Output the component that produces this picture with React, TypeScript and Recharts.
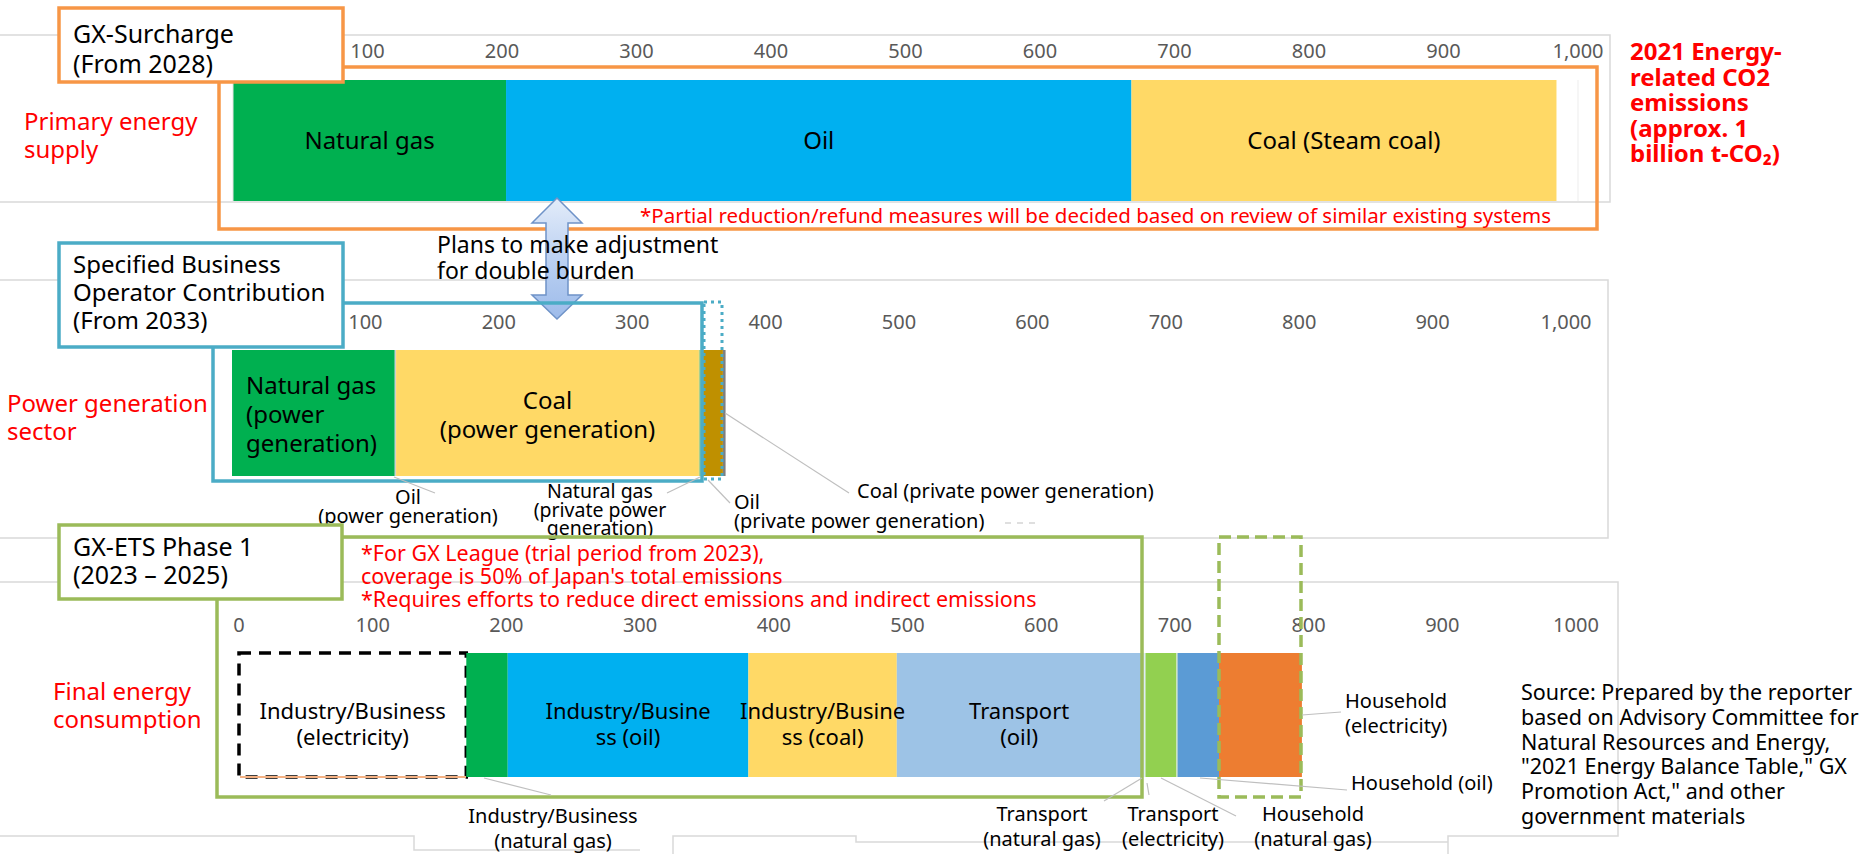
import React from "react";
import { BarChart, Bar, XAxis, YAxis, LabelList, ReferenceLine } from "recharts";

const FONT = "'Noto Sans', sans-serif";

// 2021 energy-related CO2 emissions, Mt-CO2 (approx.)
const primaryNames = ["Natural gas", "Oil", "Coal (Steam coal)"];
const primaryValues = [203, 465, 316];
const primaryLabels = ["Natural gas", "Oil", "Coal (Steam coal)"];

const powerNames = [
  "Natural gas (power generation)",
  "Oil (power generation)",
  "Coal (power generation)",
  "Natural gas (private power generation)",
  "Coal (private power generation)",
  "Oil (private power generation)",
];
const powerValues = [122, 1, 227, 3, 15, 2];
const powerLabels = ["Natural gas\n(power\ngeneration)", "", "Coal\n(power generation)", "", "", ""];

const finalNames = [
  "Industry/Business (electricity)",
  "Industry/Business (natural gas)",
  "Industry/Business (oil)",
  "Industry/Business (coal)",
  "Transport (oil)",
  "Transport (natural gas)",
  "Transport (electricity)",
  "Household (natural gas)",
  "Household (oil)",
  "Household (electricity)",
];
const finalValues = [170, 31, 180, 111, 183, 3, 23, 1, 31, 62];
const finalLabels = [
  "Industry/Business\n(electricity)",
  "",
  "Industry/Busine\nss (oil)",
  "Industry/Busine\nss (coal)",
  "Transport\n(oil)",
  "",
  "",
  "",
  "",
  "",
];

const axisTicks = [0, 100, 200, 300, 400, 500, 600, 700, 800, 900, 1000];

const primaryColors = ["#00B050", "#00B0F0", "#FFD966"];
const powerColors = ["#00B050", "#D0CECE", "#FFD966", "#A9D18E", "#BF9000", "#7F7F7F"];
const finalColors = [
  "#FFFFFF", "#00B050", "#00B0F0", "#FFD966", "#9DC3E6",
  "#DEEBF7", "#92D050", "#C5E0B4", "#5B9BD5", "#ED7D31",
];

const RED = "#FF0000";
const ORANGE = "#F79646";
const BLUE = "#4BACC6";
const GREEN = "#9BBB59";
const FRAME = "#D9D9D9";
const LEADER = "#BFBFBF";

const withComma = (v: number) => v.toLocaleString("en-US");
const noComma = (v: number) => String(v);

function barLabel(p: any, text: string, size: number, align: string, dy: number, lh: number) {
  if (!text) return null;
  const x = Number(p.x), y = Number(p.y), w = Number(p.width), h = Number(p.height);
  const lines = text.split("\n");
  const cx = align === "start" ? x + 14 : x + w / 2;
  const y0 = y + h / 2 + dy - ((lines.length - 1) * lh) / 2;
  return (
    <text textAnchor={align} dominantBaseline="central" fontFamily={FONT} fontSize={size} fill="#000">
      {lines.map((l, i) => (
        <tspan key={i} x={cx} y={y0 + i * lh}>{l}</tspan>
      ))}
    </text>
  );
}

type StackProps = {
  names: string[];
  values: number[];
  colors: string[];
  labels: string[];
  left: number;
  top: number;
  width: number;
  height: number;
  margin: { top: number; right: number; bottom: number; left: number };
  axisH: number;
  tickY: number;
  fmt: (v: number) => string;
  labelSize: number;
  labelDy: number;
  labelLh: number;
  firstAlign?: string;
  dashedFirst?: boolean;
  edgeLines?: boolean;
};

function StackChart(props: StackProps) {
  const row: any = { name: "row" };
  props.names.forEach((_, i) => (row["s" + i] = props.values[i]));
  return (
    <div style={{ position: "absolute", left: props.left, top: props.top }}>
      <BarChart
        width={props.width}
        height={props.height}
        data={[row]}
        layout="vertical"
        margin={props.margin}
        barCategoryGap={0}
      >
        <XAxis
          type="number"
          orientation="top"
          domain={[0, 1000]}
          ticks={axisTicks}
          interval={0}
          height={props.axisH}
          axisLine={false}
          tickLine={false}
          tick={(t: any) => (
            <text
              x={t.x}
              y={props.tickY}
              textAnchor="middle"
              dominantBaseline="central"
              fill="#595959"
              fontSize={20}
              fontFamily={FONT}
            >
              {props.fmt(t.payload.value)}
            </text>
          )}
        />
        <YAxis type="category" dataKey="name" hide />
        {props.edgeLines && <ReferenceLine x={0} stroke="#E3E3E3" />}
        {props.edgeLines && <ReferenceLine x={1000} stroke="#EDEDED" />}
        {props.names.map((n, i) => {
          const dashed = props.dashedFirst && i === 0;
          return (
            <Bar
              key={n}
              name={n}
              dataKey={"s" + i}
              stackId="a"
              fill={props.colors[i]}
              isAnimationActive={false}
              stroke={dashed ? "#000" : undefined}
              strokeWidth={dashed ? 3.5 : 0}
              strokeDasharray={dashed ? "12 8" : undefined}
            >
              <LabelList
                dataKey={"s" + i}
                content={(p: any) =>
                  barLabel(
                    p,
                    props.labels[i],
                    props.labelSize,
                    i === 0 && props.firstAlign ? props.firstAlign : "middle",
                    props.labelDy,
                    props.labelLh
                  )
                }
              />
            </Bar>
          );
        })}
      </BarChart>
    </div>
  );
}

function Txt({ x, y, lines, size = 20, fill = "#000", anchor = "start", weight = 400, lh }: any) {
  const h = lh ?? size * 1.3;
  return (
    <text fontFamily={FONT} fontSize={size} fill={fill} textAnchor={anchor} fontWeight={weight} dominantBaseline="central">
      {lines.map((l: string, i: number) => (
        <tspan key={i} x={x} y={y + i * h}>{l}</tspan>
      ))}
    </text>
  );
}

function Overlay() {
  return (
    <svg width={1872} height={854} style={{ position: "absolute", left: 0, top: 0, pointerEvents: "none" }}>
      <defs>
        <linearGradient id="arrowFill" x1="0" y1="0" x2="0" y2="1">
          <stop offset="0%" stopColor="#E3ECF9" />
          <stop offset="50%" stopColor="#BCD1F2" />
          <stop offset="100%" stopColor="#9DBBEA" />
        </linearGradient>
      </defs>

      {/* chart frames */}
      <g stroke={FRAME} strokeWidth={1.5} fill="none">
        <polyline points="0,35 1610,35 1610,202 0,202" />
        <polyline points="0,280 1608,280 1608,538 0,538" />
        <polyline points="0,582 1618,582 1618,836 1448,836 1448,854" />
        <polyline points="0,836 414,836 414,850 640,850" />
        <polyline points="673,854 673,836 856,836 856,842 1448,842" />
      </g>

      {/* primary energy supply */}
      <rect x={219} y={67} width={1378} height={162} fill="none" stroke={ORANGE} strokeWidth={3.5} />
      <Txt x={24} y={120} lines={["Primary energy", "supply"]} size={24} fill={RED} lh={28} />
      <Txt
        x={640}
        y={215}
        lines={["*Partial reduction/refund measures will be decided based on review of similar existing systems"]}
        size={20.5}
        fill={RED}
      />
      <Txt
        x={1630}
        y={50}
        lines={["2021 Energy-", "related CO2", "emissions", "(approx. 1", "billion t-CO\u2082)"]}
        size={24}
        fill={RED}
        weight={700}
        lh={25.5}
      />

      {/* adjustment arrow */}
      <path
        d="M557,198 L582,223 L568,223 L568,295 L582,295 L557,319 L532,295 L546,295 L546,223 L532,223 Z"
        fill="url(#arrowFill)"
        stroke="#6F93C8"
        strokeWidth={1.5}
      />

      {/* power generation sector */}
      <rect x={213} y={303} width={489} height={178} fill="none" stroke={BLUE} strokeWidth={3.5} />
      <rect x={704} y={302} width={18} height={177} fill="none" stroke={BLUE} strokeWidth={3} strokeDasharray="3 4" />
      <Txt x={437} y={244} lines={["Plans to make adjustment", "for double burden"]} size={23} lh={26} />
      <Txt x={7} y={402} lines={["Power generation", "sector"]} size={24} fill={RED} lh={28} />

      <g stroke={LEADER} strokeWidth={1.2}>
        <line x1={394} y1={477} x2={435} y2={493} />
        <line x1={667} y1={493} x2={700} y2={477} />
        <line x1={708} y1={480} x2={730} y2={503} />
        <line x1={725} y1={413} x2={849} y2={493} />
        <line x1={1005} y1={523} x2={1035} y2={523} strokeDasharray="6 6" />
      </g>
      <Txt x={408} y={496} lines={["Oil", "(power generation)"]} anchor="middle" lh={19} />
      <Txt x={600} y={490} lines={["Natural gas", "(private power", "generation)"]} anchor="middle" size={19.5} lh={18.5} />
      <Txt x={734} y={501} lines={["Oil", "(private power generation)"]} lh={19} />
      <Txt x={857} y={490} lines={["Coal (private power generation)"]} />

      {/* final energy consumption */}
      <line x1={240} y1={777} x2={466} y2={777} stroke="#F4B183" strokeWidth={2} />
      <rect x={217} y={537} width={925} height={260} fill="none" stroke={GREEN} strokeWidth={3.5} />
      <rect x={1219} y={537} width={82} height={260} fill="none" stroke={GREEN} strokeWidth={3.5} strokeDasharray="12 6" />
      <Txt
        x={361}
        y={552}
        lines={[
          "*For GX League (trial period from 2023),",
          "coverage is 50% of Japan's total emissions",
          "*Requires efforts to reduce direct emissions and indirect emissions",
        ]}
        size={21.5}
        fill={RED}
        lh={23}
      />
      <Txt x={53} y={690} lines={["Final energy", "consumption"]} size={24} fill={RED} lh={28} />

      <g stroke={LEADER} strokeWidth={1.2}>
        <line x1={484} y1={778} x2={551} y2={795} />
        <line x1={1104} y1={801} x2={1142} y2={778} />
        <line x1={1147} y1={783} x2={1149} y2={795} />
        <line x1={1161} y1={778} x2={1236} y2={816} />
        <line x1={1200} y1={778} x2={1347} y2={790} />
        <line x1={1302} y1={715} x2={1341} y2={712} />
      </g>
      <Txt x={553} y={815} lines={["Industry/Business", "(natural gas)"]} anchor="middle" lh={25} />
      <Txt x={1042} y={813} lines={["Transport", "(natural gas)"]} anchor="middle" lh={25} />
      <Txt x={1173} y={813} lines={["Transport", "(electricity)"]} anchor="middle" lh={25} />
      <Txt x={1313} y={813} lines={["Household", "(natural gas)"]} anchor="middle" lh={25} />
      <Txt x={1351} y={782} lines={["Household (oil)"]} />
      <Txt x={1345} y={700} lines={["Household", "(electricity)"]} lh={25} />
      <Txt
        x={1521}
        y={691}
        lines={[
          "Source: Prepared by the reporter",
          "based on Advisory Committee for",
          "Natural Resources and Energy,",
          "\"2021 Energy Balance Table,\" GX",
          "Promotion Act,\" and other",
          "government materials",
        ]}
        size={21.5}
        lh={24.8}
      />

      {/* scheme title boxes */}
      <rect x={59} y={8} width={284} height={74} fill="#fff" stroke={ORANGE} strokeWidth={3.5} />
      <Txt x={73} y={33} lines={["GX-Surcharge", "(From 2028)"]} size={25} lh={30} />
      <rect x={59} y={243} width={284} height={104} fill="#fff" stroke={BLUE} strokeWidth={3.5} />
      <Txt x={73} y={263} lines={["Specified Business", "Operator Contribution", "(From 2033)"]} size={24} lh={28} />
      <rect x={59} y={525} width={283} height={74} fill="#fff" stroke={GREEN} strokeWidth={3.5} />
      <Txt x={73} y={546} lines={["GX-ETS Phase 1", "(2023 \u2013 2025)"]} size={25} lh={28} />
    </svg>
  );
}

export default function App() {
  return (
    <div style={{ position: "absolute", left: 0, top: 0, width: 1872, height: 854, background: "#fff", overflow: "hidden" }}>
      <StackChart
        names={primaryNames}
        values={primaryValues}
        colors={primaryColors}
        labels={primaryLabels}
        left={0}
        top={35}
        width={1610}
        height={167}
        margin={{ top: 0, right: 32, bottom: 1, left: 233 }}
        axisH={45}
        tickY={15}
        fmt={withComma}
        labelSize={24}
        labelDy={-2}
        labelLh={29}
        edgeLines
      />
      <StackChart
        names={powerNames}
        values={powerValues}
        colors={powerColors}
        labels={powerLabels}
        left={0}
        top={280}
        width={1608}
        height={258}
        margin={{ top: 0, right: 42, bottom: 62, left: 232 }}
        axisH={70}
        tickY={41}
        fmt={withComma}
        labelSize={24}
        labelDy={0}
        labelLh={29}
        firstAlign="start"
      />
      <StackChart
        names={finalNames}
        values={finalValues}
        colors={finalColors}
        labels={finalLabels}
        left={0}
        top={582}
        width={1618}
        height={254}
        margin={{ top: 0, right: 42, bottom: 59, left: 239 }}
        axisH={71}
        tickY={42}
        fmt={noComma}
        labelSize={22}
        labelDy={8}
        labelLh={26}
        dashedFirst
      />
      <Overlay />
    </div>
  );
}
